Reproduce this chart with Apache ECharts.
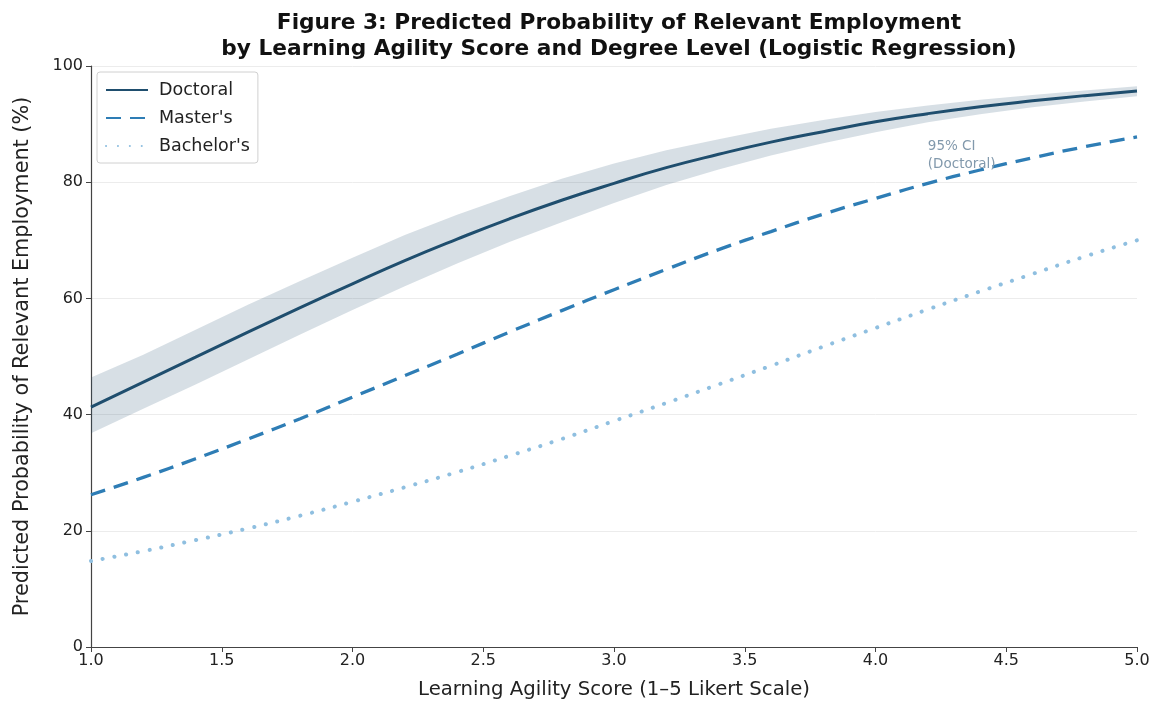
<!DOCTYPE html>
<html>
<head>
<meta charset="utf-8">
<script src="https://cdn.jsdelivr.net/npm/echarts@6/dist/echarts.min.js"></script>
<style>html,body{margin:0;padding:0;background:#fff;}#chart{width:1155px;height:706px;}</style>
</head>
<body>
<div id="chart"></div>
<script>
const scores = [1.0,1.2,1.4,1.6,1.8,2.0,2.2,2.4,2.6,2.8,3.0,3.2,3.4,3.6,3.8,4.0,4.2,4.4,4.6,4.8,5.0];
const doctoral = [41.3,45.6,49.9,54.2,58.4,62.5,66.5,70.2,73.7,76.9,79.8,82.5,84.8,86.9,88.7,90.4,91.8,93.0,94.0,94.9,95.7];
const masters = [26.2,29.2,32.4,35.8,39.3,43.0,46.7,50.4,54.2,57.9,61.5,65.0,68.4,71.5,74.5,77.2,79.8,82.1,84.2,86.1,87.8];
const bachelors = [14.8,16.5,18.4,20.4,22.6,25.0,27.5,30.1,32.9,35.8,38.9,42.0,45.2,48.4,51.7,54.9,58.1,61.2,64.2,67.2,70.0];
const ciLower = [36.8,41.0,45.2,49.5,53.8,58.0,62.1,66.0,69.7,73.1,76.4,79.5,82.2,84.6,86.7,88.6,90.3,91.7,92.9,93.9,94.8];
const ciUpper = [46.4,50.3,54.6,58.9,63.0,67.0,70.9,74.4,77.6,80.6,83.2,85.5,87.4,89.2,90.7,92.1,93.2,94.2,95.0,95.8,96.5];
const xTicks = [1.0,1.5,2.0,2.5,3.0,3.5,4.0,4.5,5.0];
const yTicks = [0,20,40,60,80,100];
const titleText = 'Figure 3: Predicted Probability of Relevant Employment\nby Learning Agility Score and Degree Level (Logistic Regression)';
const ciLabel = '95% CI\n(Doctoral)';

const pair = arr => scores.map((x, i) => [x, arr[i]]);
const font = 'DejaVu Sans';

const chart = echarts.init(document.getElementById('chart'), null, {renderer: 'canvas'});
chart.setOption({
  backgroundColor: '#ffffff',
  animation: false,
  textStyle: {fontFamily: font},
  title: {
    text: titleText,
    left: 614, top: 5, textAlign: 'center',
    textStyle: {fontFamily: font, fontWeight: 'bold', fontSize: 21.7, lineHeight: 26, color: '#111'}
  },
  legend: {
    data: ['Doctoral', "Master's", "Bachelor's"],
    orient: 'vertical', left: 97, top: 72,
    backgroundColor: '#fff', borderColor: '#d0d0d0', borderWidth: 1, borderRadius: 3,
    padding: [9, 8, 8, 8], itemGap: 10, itemWidth: 42, itemHeight: 14,
    itemStyle: {opacity: 0},
    textStyle: {fontFamily: font, fontSize: 17.5, color: '#222', padding: [0, 0, 0, 6]}
  },
  grid: {left: 91, right: 18, top: 66, bottom: 59, containLabel: false},
  xAxis: {
    type: 'value', min: 1, max: 5, interval: 0.5,
    name: 'Learning Agility Score (1\u20135 Likert Scale)', nameLocation: 'middle', nameGap: 33,
    nameTextStyle: {fontFamily: font, fontSize: 19.7, color: '#222'},
    axisLine: {show: true, lineStyle: {color: '#444', width: 1.2}},
    axisTick: {show: true, length: 5, lineStyle: {color: '#444'}},
    axisLabel: {fontSize: 16, color: '#222', margin: 6, formatter: v => (xTicks.indexOf(v) >= 0 ? v.toFixed(1) : '')},
    splitLine: {show: false}
  },
  yAxis: {
    type: 'value', min: 0, max: 100, interval: 20,
    name: 'Predicted Probability of Relevant Employment (%)', nameLocation: 'middle', nameGap: 58,
    nameTextStyle: {fontFamily: font, fontSize: 20.8, color: '#222'},
    axisLine: {show: true, lineStyle: {color: '#444', width: 1.2}},
    axisTick: {show: true, length: 5, lineStyle: {color: '#444'}},
    axisLabel: {fontSize: 16, color: '#222', margin: 8, formatter: v => (yTicks.indexOf(v) >= 0 ? String(v) : '')},
    splitLine: {show: true, lineStyle: {color: '#ececec', width: 1}}
  },
  series: [
    {
      name: 'ciBand', type: 'custom', silent: true, z: 1,
      data: scores.map((x, i) => [x, ciLower[i], ciUpper[i]]),
      encode: {x: 0, y: [1, 2]},
      renderItem: function (params, api) {
        if (params.dataIndex !== 0) return null;
        const pts = [];
        for (let i = 0; i < scores.length; i++) pts.push(api.coord([scores[i], ciUpper[i]]));
        for (let i = scores.length - 1; i >= 0; i--) pts.push(api.coord([scores[i], ciLower[i]]));
        return {type: 'polygon', shape: {points: pts}, style: {fill: 'rgba(31,78,110,0.18)', stroke: 'none'}};
      }
    },
    {
      name: 'Doctoral', type: 'line', data: pair(doctoral), smooth: true, symbol: 'none',
      itemStyle: {color: '#1f4e6e'}, lineStyle: {color: '#1f4e6e', width: 3}, z: 4,
      markPoint: {
        symbol: 'circle', symbolSize: 0, silent: true,
        data: [{coord: [4.2, 84.6], value: 0}],
        label: {show: true, position: 'right', distance: 0, formatter: ciLabel, fontFamily: font, fontSize: 13.5, lineHeight: 18, color: '#8299ac', align: 'left'}
      }
    },
    {
      name: "Master's", type: 'line', data: pair(masters), smooth: true, symbol: 'none',
      itemStyle: {color: '#2e7db5'}, lineStyle: {color: '#2e7db5', width: 3.3, type: [15, 9]}, z: 3
    },
    {
      name: "Bachelor's", type: 'line', data: pair(bachelors), smooth: true, symbol: 'none',
      itemStyle: {color: '#8fbfe0'}, lineStyle: {color: '#8fbfe0', width: 4, type: [0.1, 11.8], cap: 'round'}, z: 2
    }
  ]
});
</script>
</body>
</html>
